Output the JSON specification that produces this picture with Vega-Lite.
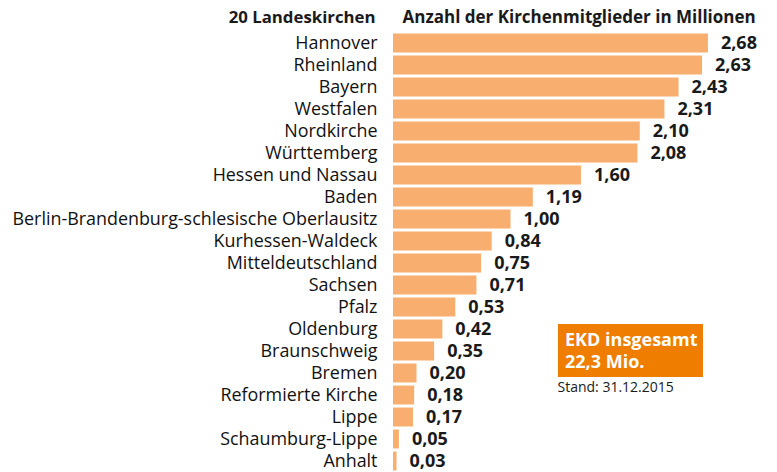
{
  "$schema": "https://vega.github.io/schema/vega-lite/v6.json",
  "width": 384,
  "height": 440,
  "autosize": {"type": "none"},
  "padding": {"left": 393, "top": 32, "right": 0, "bottom": 0},
  "background": "white",
  "config": {
    "view": {"stroke": null},
    "font": "Open Sans",
    "locale": {"number": {"decimal": ",", "thousands": ".", "grouping": [3], "currency": ["", " €"]}}
  },
  "layer": [
    {
      "data": {
        "values": [
          {"kirche": "Hannover", "mitglieder": 2.68},
          {"kirche": "Rheinland", "mitglieder": 2.63},
          {"kirche": "Bayern", "mitglieder": 2.43},
          {"kirche": "Westfalen", "mitglieder": 2.31},
          {"kirche": "Nordkirche", "mitglieder": 2.10},
          {"kirche": "Württemberg", "mitglieder": 2.08},
          {"kirche": "Hessen und Nassau", "mitglieder": 1.60},
          {"kirche": "Baden", "mitglieder": 1.19},
          {"kirche": "Berlin-Brandenburg-schlesische Oberlausitz", "mitglieder": 1.00},
          {"kirche": "Kurhessen-Waldeck", "mitglieder": 0.84},
          {"kirche": "Mitteldeutschland", "mitglieder": 0.75},
          {"kirche": "Sachsen", "mitglieder": 0.71},
          {"kirche": "Pfalz", "mitglieder": 0.53},
          {"kirche": "Oldenburg", "mitglieder": 0.42},
          {"kirche": "Braunschweig", "mitglieder": 0.35},
          {"kirche": "Bremen", "mitglieder": 0.20},
          {"kirche": "Reformierte Kirche", "mitglieder": 0.18},
          {"kirche": "Lippe", "mitglieder": 0.17},
          {"kirche": "Schaumburg-Lippe", "mitglieder": 0.05},
          {"kirche": "Anhalt", "mitglieder": 0.03}
        ]
      },
      "encoding": {
        "y": {
          "field": "kirche",
          "type": "nominal",
          "sort": null,
          "scale": {"paddingInner": 0.14, "paddingOuter": 0.07},
          "axis": {
            "title": "20 Landeskirchen",
            "titleAngle": 0,
            "titleAlign": "right",
            "titleBaseline": "middle",
            "titleX": -18,
            "titleY": -15,
            "titleFontSize": 16.8,
            "titleFontWeight": "bold",
            "titleColor": "#1a1a1a",
            "labelFontSize": 17.9,
            "labelPadding": 16,
            "labelColor": "#111111",
            "labelLimit": 400,
            "labelBaseline": "middle",
            "labelOffset": 1,
            "domain": false,
            "ticks": false,
            "grid": false
          }
        },
        "x": {
          "field": "mitglieder",
          "type": "quantitative",
          "scale": {"domain": [0, 3.268], "nice": false, "zero": true},
          "axis": {
            "orient": "top",
            "title": "Anzahl der Kirchenmitglieder in Millionen",
            "titleAnchor": "start",
            "titleAlign": "left",
            "titleBaseline": "middle",
            "titleX": 9,
            "titleY": -15,
            "titleFontSize": 17,
            "titleFontWeight": "bold",
            "titleColor": "#1a1a1a",
            "labels": false,
            "ticks": false,
            "domain": false,
            "grid": false
          }
        }
      },
      "layer": [
        {"mark": {"type": "bar", "color": "#F7AE6E"}},
        {
          "mark": {"type": "text", "align": "left", "baseline": "middle", "dx": 13, "dy": 1, "fontWeight": "bold", "fontSize": 18, "color": "#1a1a1a"},
          "encoding": {"text": {"field": "mitglieder", "type": "quantitative", "format": ".2f"}}
        }
      ]
    },
    {
      "layer": [
        {
          "data": {"values": [{"x": 1.404, "x2": 2.638, "y": 13.27, "y2": 15.68}]},
          "mark": {"type": "rect", "color": "#EE7D00"},
          "encoding": {
            "x": {"field": "x", "type": "quantitative", "scale": {"domain": [0, 3.268], "nice": false}},
            "x2": {"field": "x2"},
            "y": {"field": "y", "type": "quantitative", "scale": {"domain": [0, 20], "reverse": true}, "axis": null},
            "y2": {"field": "y2"}
          }
        },
        {
          "data": {"values": [{"x": 1.464, "y": 14.05, "t": "EKD insgesamt"}, {"x": 1.464, "y": 15.05, "t": "22,3 Mio."}]},
          "mark": {"type": "text", "align": "left", "baseline": "middle", "fontWeight": "bold", "fontSize": 18, "color": "white"},
          "encoding": {
            "x": {"field": "x", "type": "quantitative", "scale": {"domain": [0, 3.268], "nice": false}},
            "y": {"field": "y", "type": "quantitative", "scale": {"domain": [0, 20], "reverse": true}, "axis": null},
            "text": {"field": "t"}
          }
        },
        {
          "data": {"values": [{"x": 1.40, "y": 16.18, "t": "Stand: 31.12.2015"}]},
          "mark": {"type": "text", "align": "left", "baseline": "middle", "fontSize": 14, "color": "#1a1a1a"},
          "encoding": {
            "x": {"field": "x", "type": "quantitative", "scale": {"domain": [0, 3.268], "nice": false}},
            "y": {"field": "y", "type": "quantitative", "scale": {"domain": [0, 20], "reverse": true}, "axis": null},
            "text": {"field": "t"}
          }
        }
      ]
    }
  ],
  "resolve": {"scale": {"y": "independent"}}
}
